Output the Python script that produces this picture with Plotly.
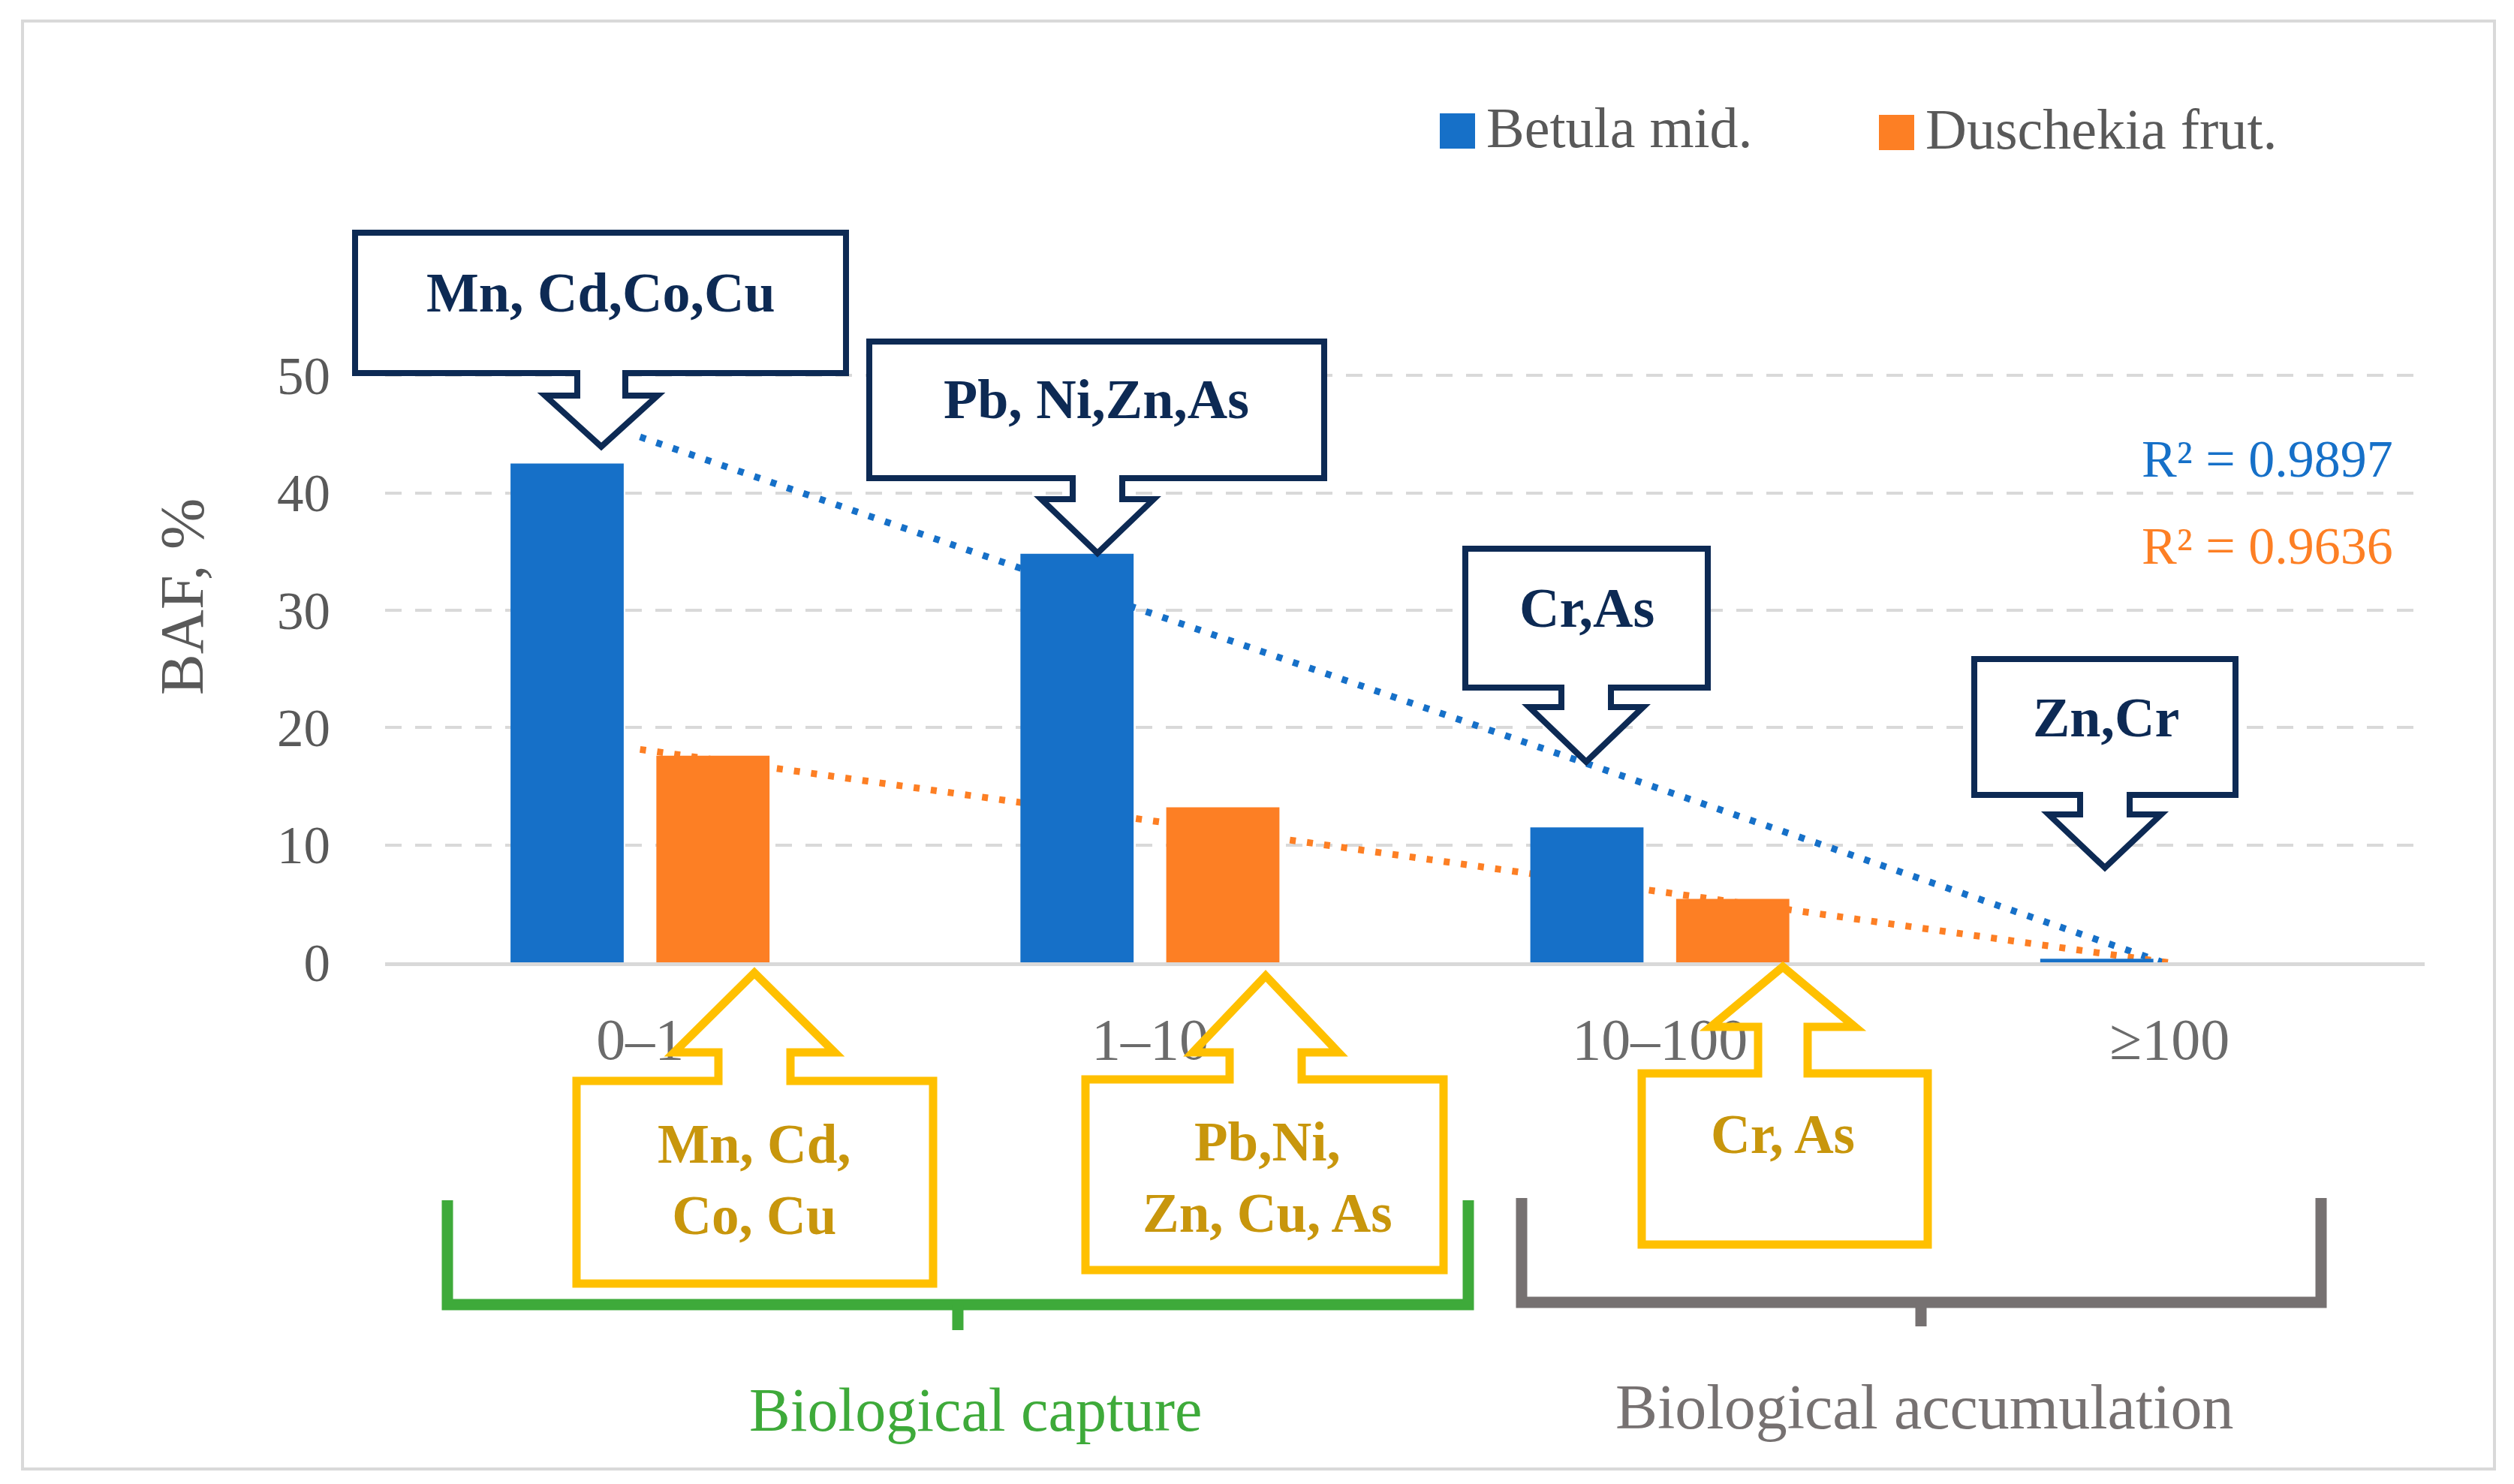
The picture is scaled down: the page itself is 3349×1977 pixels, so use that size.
import numpy as np
import plotly.graph_objects as go

# ---- data ----
categories = ["0–1", "1–10", "10–100", "≥100"]
betula = [42.5, 34.8, 11.5, 0.3]
duschekia = [17.6, 13.2, 5.4, 0.0]
r2_labels = ["R² = 0.9897", "R² = 0.9636"]
navy_labels = ["Mn, Cd,Co,Cu", "Pb, Ni,Zn,As", "Cr,As", "Zn,Cr"]
yellow_labels = ["Mn, Cd,<br>Co, Cu", "Pb,Ni,<br>Zn, Cu, As", "Cr, As"]
group_labels = ["Biological capture", "Biological accumulation"]

BLUE = "#1670C8"
ORANGE = "#FD7F24"
NAVY = "#0D2A54"
YELLOW = "#FFC000"
GOLD = "#C8960C"
GREEN = "#3EAA3A"
BRACKET_GRAY = "#767171"
GRID = "#D9D9D9"
TXT = "#595959"
FONT = "Liberation Serif"

# page is offset by the 8px body margin, so the figure is drawn 16px smaller
OFF = 8
W, H = 3349 - 2 * OFF, 1977 - 2 * OFF
L, R, T, B = 513 - OFF, 119 - OFF, 422 - OFF, 695 - OFF
PW, PH = W - L - R, H - T - B


def px(x):
    return (x - OFF - L) / PW


def py(y):
    return (H - B - (y - OFF)) / PH


def path(points, close=True):
    s = "M " + " L ".join(f"{px(x):.5f},{py(y):.5f}" for x, y in points)
    return s + (" Z" if close else "")


def callout(box, cx, s, neck, w, tip, down=True):
    x0, y0, x1, y1 = box
    if down:
        pts = [(x0, y0), (x1, y0), (x1, y1), (cx + s, y1), (cx + s, neck), (cx + w, neck),
               (cx, tip), (cx - w, neck), (cx - s, neck), (cx - s, y1), (x0, y1)]
    else:
        pts = [(x0, y0), (cx - s, y0), (cx - s, neck), (cx - w, neck), (cx, tip),
               (cx + w, neck), (cx + s, neck), (cx + s, y0), (x1, y0), (x1, y1), (x0, y1)]
    return path(pts)


fig = go.Figure()

# trend lines (under the bars)
idx = np.arange(len(categories))
for vals, col in [(betula, BLUE), (duschekia, ORANGE)]:
    k, b0 = np.polyfit(idx, vals, 1)
    fig.add_trace(go.Scatter(
        x=[categories[0], categories[-1]], y=[b0, b0 + k * idx[-1]],
        mode="lines", line=dict(color=col, width=9, dash="8px,15px"),
        showlegend=False, hoverinfo="skip"))

fig.add_trace(go.Bar(x=categories, y=betula, name="Betula mid.", width=0.222, offset=-0.254,
                     marker=dict(color=BLUE, line=dict(width=0)), xaxis="x2", yaxis="y2"))
fig.add_trace(go.Bar(x=categories, y=duschekia, name="Duschekia frut.", width=0.222, offset=0.032,
                     marker=dict(color=ORANGE, line=dict(width=0)), xaxis="x2", yaxis="y2"))

shapes = []
# outer frame
shapes.append(dict(type="rect", xref="paper", yref="paper", x0=px(30), x1=px(3323), y0=py(28), y1=py(1957),
                   line=dict(color=GRID, width=4), layer="below"))
# legend swatches
shapes.append(dict(type="rect", xref="paper", yref="paper", x0=px(1918), x1=px(1965), y0=py(151), y1=py(198),
                   fillcolor=BLUE, line=dict(width=0)))
shapes.append(dict(type="rect", xref="paper", yref="paper", x0=px(2503), x1=px(2550), y0=py(153), y1=py(200),
                   fillcolor=ORANGE, line=dict(width=0)))

navy_geo = [
    ((473, 310, 1127, 497), 801, 32, 527, 75, 595),
    ((1158, 455, 1764, 637), 1462, 33, 665, 75, 737),
    ((1952, 731, 2275, 916), 2113, 33, 942, 76, 1015),
    ((2630, 878, 2978, 1059), 2804, 33, 1085, 75, 1156),
]
for g in navy_geo:
    shapes.append(dict(type="path", xref="paper", yref="paper", path=callout(*g),
                       fillcolor="white", line=dict(color=NAVY, width=8), layer="above"))

yellow_geo = [
    ((768, 1440, 1243, 1710), 1005, 48, 1402, 107, 1296),
    ((1446, 1438, 1923, 1692), 1686, 48, 1402, 97, 1300),
    ((2187, 1430, 2568, 1658), 2375, 33, 1368, 96, 1288),
]
for g in yellow_geo:
    shapes.append(dict(type="path", xref="paper", yref="paper", path=callout(*g, down=False),
                       line=dict(color=YELLOW, width=11), layer="above"))

# brackets
for (xa, xb, top, bot, stub, mid), col in [((596, 1956, 1599, 1738, 1772, 1276), GREEN),
                                            ((2027, 3092, 1596, 1735, 1767, 2559), BRACKET_GRAY)]:
    shapes.append(dict(type="path", xref="paper", yref="paper",
                       path=path([(xa, top), (xa, bot), (xb, bot), (xb, top)], close=False),
                       line=dict(color=col, width=15), layer="above"))
    shapes.append(dict(type="path", xref="paper", yref="paper",
                       path=path([(mid, bot), (mid, stub)], close=False),
                       line=dict(color=col, width=15), layer="above"))

ann = []


def text(t, x, y, size, color, xanchor="center", angle=0):
    ann.append(dict(text=t, x=px(x), y=py(y), xref="paper", yref="paper", showarrow=False,
                    xanchor=xanchor, yanchor="middle", textangle=angle,
                    font=dict(family=FONT, size=size, color=color)))


for t, (x, y) in zip(navy_labels, [(800, 390), (1460, 532), (2114, 810), (2805, 956)]):
    text(f"<b>{t}</b>", x, y, 74, NAVY)
for t, (x, y) in zip(yellow_labels, [(1005, 1572), (1688, 1569), (2375, 1511)]):
    text(f"<b>{t}</b>", x, y, 73, GOLD)

text("Betula mid.", 1978, 170, 76, TXT, xanchor="left")
text("Duschekia frut.", 2563, 172, 76, TXT, xanchor="left")
text(r2_labels[0], 3190, 611, 70, BLUE, xanchor="right")
text(r2_labels[1], 3190, 727, 70, ORANGE, xanchor="right")
text(group_labels[0], 1299, 1878, 82, GREEN)
text(group_labels[1], 2563, 1874, 84, BRACKET_GRAY)
text("BAF, %", 242, 795, 82, TXT, angle=-90)

cat_axis = dict(type="category", categoryorder="array", categoryarray=categories, range=[-0.5, 3.5])

fig.update_layout(
    width=W, height=H,
    margin=dict(l=L, r=R, t=T, b=B),
    paper_bgcolor="white", plot_bgcolor="white",
    barmode="overlay", showlegend=False,
    xaxis=dict(**cat_axis, showgrid=False, showline=True, linecolor=GRID, linewidth=5,
               ticks="", ticklabelstandoff=30,
               tickfont=dict(family=FONT, size=78, color="#6B6B6B")),
    yaxis=dict(range=[0, 55], tick0=0, dtick=10, showgrid=True, gridcolor=GRID, gridwidth=4,
               griddash="22px,18px", zeroline=False, showline=False, ticks="",
               ticklabelstandoff=72, tickfont=dict(family=FONT, size=71, color=TXT)),
    xaxis2=dict(**cat_axis, overlaying="x", visible=False),
    yaxis2=dict(range=[0, 55], overlaying="y", visible=False),
    shapes=shapes,
    annotations=ann,
)

fig.write_html("out.html")
